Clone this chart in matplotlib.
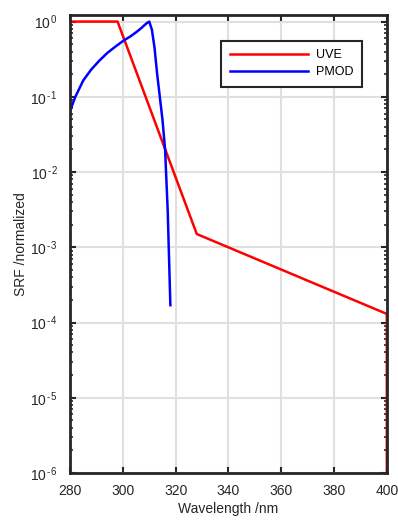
import numpy as np
import matplotlib
matplotlib.use("Agg")
import matplotlib.pyplot as plt
from matplotlib.ticker import LogLocator, FixedLocator, FuncFormatter

plt.rcParams['font.family'] = ['Liberation Sans', 'DejaVu Sans']
plt.rcParams['mathtext.fontset'] = 'custom'
plt.rcParams['mathtext.rm'] = 'Liberation Sans'
plt.rcParams['mathtext.it'] = 'Liberation Sans'

# UVE filter response
uve_wl = [280, 298, 328, 400, 400]
uve_srf = [1.0, 1.0, 1.5e-3, 1.3e-4, 1e-9]

# PMOD filter response
pmod_wl = [280, 282, 285, 288, 291, 294, 297, 300, 303, 305, 307, 309, 310,
           311, 312, 313, 314, 315, 316, 317, 318]
pmod_srf = [0.065, 0.1, 0.165, 0.23, 0.3, 0.38, 0.46, 0.55, 0.64, 0.72, 0.82,
            0.95, 1.0, 0.78, 0.45, 0.2, 0.1, 0.05, 0.02, 0.003, 1.7e-4]

xticks = [280, 300, 320, 340, 360, 380, 400]
yticks = [1e-6, 1e-5, 1e-4, 1e-3, 1e-2, 1e-1, 1e0]

HYPHEN = '\u2010'


def decade_label(v, pos):
    e = int(round(np.log10(v)))
    if e < 0:
        return r'$10^{\,' + HYPHEN + str(-e) + '}$'
    return r'$10^{\,' + str(e) + '}$'


fig = plt.figure(figsize=(3.98, 5.20), dpi=100)
ax = fig.add_axes([0.176, 0.0904, 0.796, 0.8806])

ax.grid(True, which='major', color='#e0e0e0', linewidth=1.5, zorder=0)
ax.plot(uve_wl, uve_srf, color='#ff0000', linewidth=1.8, label='UVE', zorder=3)
ax.plot(pmod_wl, pmod_srf, color='#0000ff', linewidth=1.8, label='PMOD', zorder=3)

ax.set_yscale('log')
ax.set_xlim(280, 400)
ax.set_ylim(1e-6, 1.22)
ax.xaxis.set_major_locator(FixedLocator(xticks))
ax.yaxis.set_major_locator(FixedLocator(yticks))
ax.yaxis.set_minor_locator(LogLocator(base=10, subs=np.arange(2, 10), numticks=10))
ax.yaxis.set_major_formatter(FuncFormatter(decade_label))
ax.yaxis.set_minor_formatter(FuncFormatter(lambda v, p: ''))

ax.tick_params(which='both', direction='in', top=True, right=True,
               labelsize=10, color='#262626', labelcolor='#262626')
ax.tick_params(which='major', length=4, width=1.5)
ax.tick_params(which='minor', length=2.5, width=1.2)
ax.tick_params(axis='x', pad=8)
ax.tick_params(axis='y', pad=9)
for s in ax.spines.values():
    s.set_linewidth(2)
    s.set_color('#262626')
    s.set_zorder(4)

ax.set_xlabel('Wavelength /nm', fontsize=10, color='#262626', labelpad=3)
ax.set_ylabel('SRF /normalized', fontsize=10, color='#262626', labelpad=2)

leg = ax.legend(loc='upper right', bbox_to_anchor=(0.922, 0.944), fontsize=9,
                handlelength=6.3, handletextpad=0.6, fancybox=False, framealpha=1,
                edgecolor='#262626', borderpad=0.7, borderaxespad=0,
                labelspacing=0.4)
leg.get_frame().set_linewidth(1.5)

fig.savefig('out.png', dpi=100)
